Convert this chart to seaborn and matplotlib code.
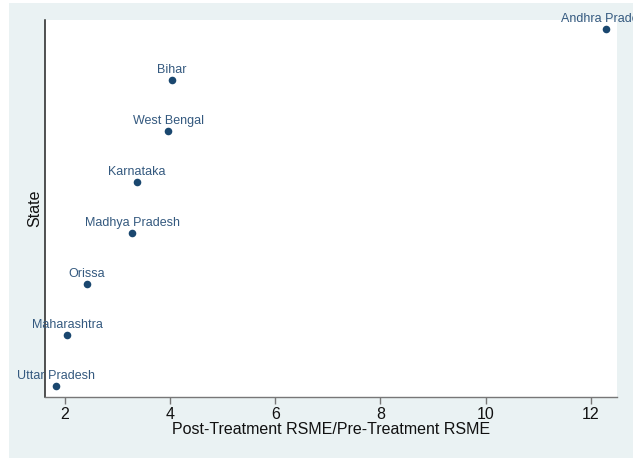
import matplotlib
matplotlib.use("Agg")
import matplotlib.pyplot as plt
import seaborn as sns
import pandas as pd
from matplotlib.patches import Rectangle
from matplotlib.transforms import Bbox, TransformedBbox

# Ratio of post- to pre-treatment RMSE by state
states = ["Uttar Pradesh", "Maharashtra", "Orissa", "Madhya Pradesh",
          "Karnataka", "West Bengal", "Bihar", "Andhra Pradesh"]
ratios = [1.82, 2.04, 2.41, 3.28, 3.37, 3.96, 4.03, 12.30]
ranks = [1, 2, 3, 4, 5, 6, 7, 8]
xticks = [2, 4, 6, 8, 10, 12]

df = pd.DataFrame({"State": states, "ratio": ratios, "rank": ranks})

sns.set_theme(style="white")
plt.rcParams["font.family"] = ["Liberation Sans", "DejaVu Sans"]

W, H = 644, 458
fig = plt.figure(figsize=(W / 100, H / 100), dpi=100, facecolor="white")

# graph region background
bg_color = "#eaf2f3"
fig.patches.append(Rectangle((9 / W, 0), (633 - 9) / W, (458 - 3) / H,
                             transform=fig.transFigure, facecolor=bg_color,
                             edgecolor="none", zorder=-10))

ax = fig.add_axes([45 / W, (H - 397) / H, (617 - 45) / W, (397 - 20) / H])
ax.set_facecolor("white")

navy = "#1a476f"
sns.scatterplot(data=df, x="ratio", y="rank", ax=ax, color=navy, s=30,
                edgecolor=navy, linewidth=0, legend=False, zorder=3)

clip = TransformedBbox(Bbox([[9 / W, 0], [633 / W, 1]]), fig.transFigure)
for st, xv, yv in zip(df["State"], df["ratio"], df["rank"]):
    t = ax.annotate(st, (xv, yv), xytext=(0, 2.8), textcoords="offset points",
                    ha="center", va="bottom", fontsize=9, color="#34597f",
                    annotation_clip=False)
    t.set_clip_on(True)
    t.set_clip_box(clip)

ax.set_xlim(1.62, 12.5)
ax.set_ylim(0.78, 8.18)
ax.set_xticks(xticks)
ax.set_xticklabels([str(v) for v in xticks])
ax.set_yticks([])

for side in ["top", "right"]:
    ax.spines[side].set_visible(False)
ax.spines["left"].set_color("#222222")
ax.spines["left"].set_linewidth(1.1)
ax.spines["bottom"].set_color("#777777")
ax.spines["bottom"].set_linewidth(1.0)

ax.tick_params(axis="x", bottom=True, length=5, width=1, color="#777777",
               labelsize=11.5, labelcolor="#111111", pad=2)

ax.set_xlabel("Post-Treatment RSME/Pre-Treatment RSME", fontsize=11.5,
              color="#111111", labelpad=0)
ax.set_ylabel("State", fontsize=11.5, color="#111111", labelpad=2)

fig.savefig("out.png", dpi=100, facecolor="white")
